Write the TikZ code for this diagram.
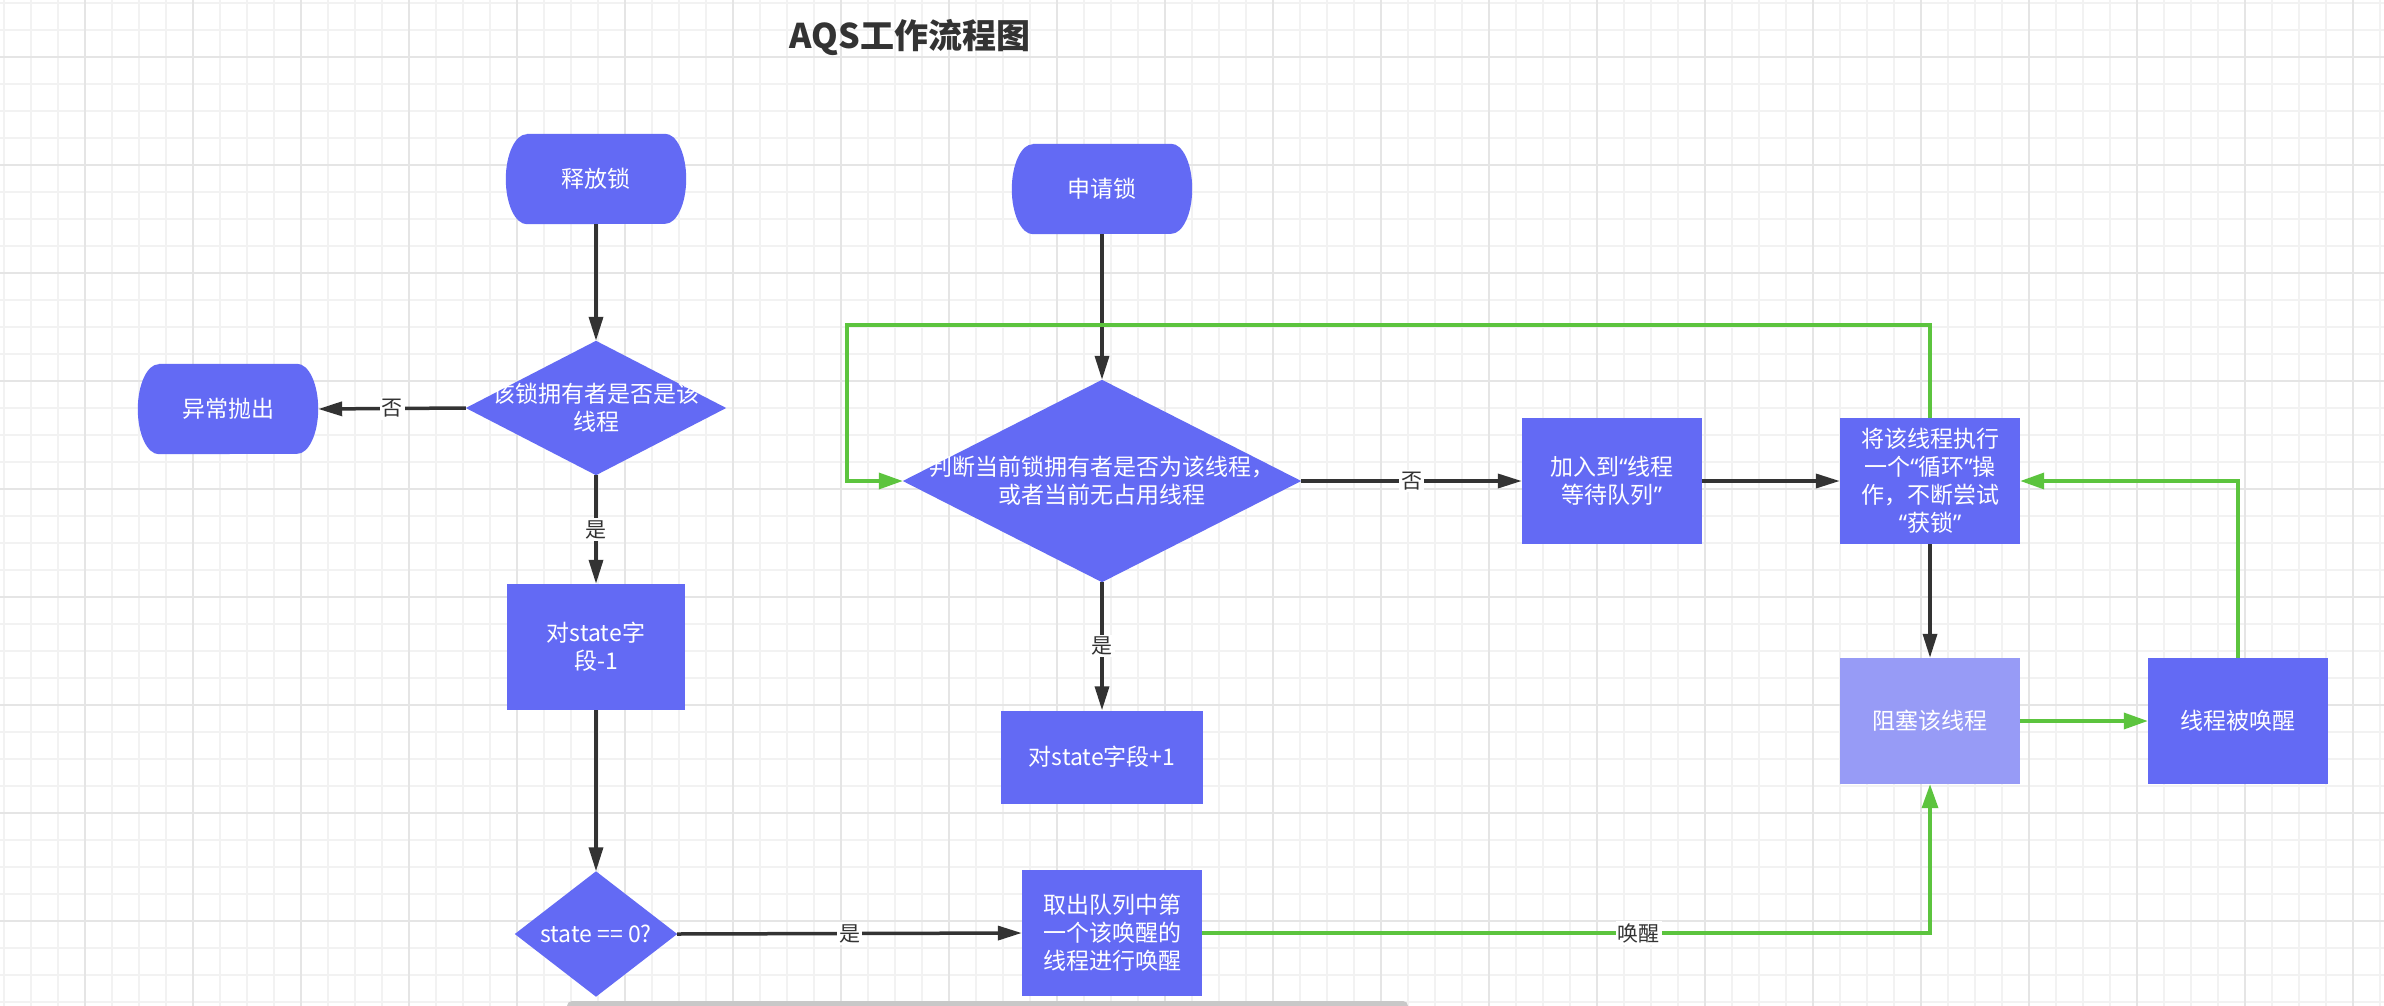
\documentclass[tikz,border=0pt]{standalone}
\usepackage{fontspec}
\setmainfont{Noto Sans CJK SC}
\newfontfamily\quotefont{Noto Sans}
\newcommand\myopenq{{\quotefont “}}
\newcommand\mycloseq{{\quotefont ”}}
\usetikzlibrary{arrows.meta}
\definecolor{nodeblue}{RGB}{99,106,244}
\definecolor{lightblue}{RGB}{151,155,246}
\definecolor{flowgreen}{RGB}{92,196,62}
\definecolor{lineblack}{RGB}{51,51,51}
\definecolor{gridminor}{RGB}{242,242,242}
\definecolor{gridmajor}{RGB}{229,229,229}
\definecolor{bargray}{RGB}{200,200,200}
\pgfdeclarelayer{gridlayer}
\pgfdeclarelayer{fills}
\pgfsetlayers{gridlayer,fills,main}
\newcommand\termshape[1]{\fill[nodeblue] ([xshift=21pt]#1.north west) -- ([xshift=-21pt]#1.north east) arc[start angle=90,end angle=-90,x radius=21pt,y radius=45pt] -- ([xshift=21pt]#1.south west) arc[start angle=270,end angle=90,x radius=21pt,y radius=45pt] -- cycle;}
\newcommand\diamondshape[1]{\fill[nodeblue] (#1.north) -- (#1.east) -- (#1.south) -- (#1.west) -- cycle;}
\begin{document}
\begin{tikzpicture}[x=1pt,y=-1pt,
  txt/.style={rectangle, inner sep=0pt, text=white, align=center, font=\fontsize{23}{28}\selectfont},
  box/.style={txt, fill=nodeblue},
  conn/.style={line width=3.5pt, draw=lineblack, -{Triangle[length=24pt,width=14pt]}},
  gconn/.style={line width=3.5pt, draw=flowgreen, -{Triangle[length=24pt,width=16pt]}},
  lbl/.style={fill=white, text=lineblack, inner sep=2pt, font=\fontsize{21}{24}\selectfont},
]
\useasboundingbox (0,0) rectangle (2384,1006);
\begin{pgfonlayer}{gridlayer}
  \fill[white] (0,0) rectangle (2384,1006);
  \foreach \k in {-3,...,85} {\draw[gridminor, line width=1.6pt] ({85+27*\k},0) -- ({85+27*\k},1006);}
  \foreach \k in {-2,...,35} {\draw[gridminor, line width=1.6pt] (0,{57+27*\k}) -- (2384,{57+27*\k});}
  \foreach \k in {0,...,21} {\draw[gridmajor, line width=2pt] ({85+108*\k},0) -- ({85+108*\k},1006);}
  \foreach \k in {0,...,8} {\draw[gridmajor, line width=2pt] (0,{57+108*\k}) -- (2384,{57+108*\k});}
  \fill[bargray, rounded corners=5pt] (567,1001) rectangle (1408,1016);
\end{pgfonlayer}

\node[font=\bfseries\fontsize{34}{40}\selectfont, text=lineblack] (title) at (910,37) {AQS工作流程图};

% terminals
\node[txt, minimum width=180pt, minimum height=90pt] (rel) at (596,179) {释放锁};
\node[txt, minimum width=180pt, minimum height=90pt] (req) at (1102,189) {申请锁};
\node[txt, minimum width=180pt, minimum height=90pt] (exc) at (228,409) {异常抛出};

% decisions
\node[txt, minimum width=260pt, minimum height=134pt] (d1) at (596,408) {该锁拥有者是否是该\\线程};
\node[txt, minimum width=398pt, minimum height=202pt] (d2) at (1102,481) {判断当前锁拥有者是否为该线程，\\或者当前无占用线程};
\node[txt, minimum width=162pt, minimum height=125pt] (d3) at (596,934) {state == 0?};

% process boxes
\node[box, minimum width=178pt, minimum height=126pt] (st1) at (596,647) {对state字\\段-1};
\node[box, minimum width=202pt, minimum height=93pt] (st2) at (1102,757) {对state字段+1};
\node[box, minimum width=180pt, minimum height=126pt] (take) at (1112,933) {取出队列中第\\一个该唤醒的\\线程进行唤醒};
\node[box, minimum width=180pt, minimum height=126pt] (join) at (1612,481) {加入到\myopenq 线程\\等待队列\mycloseq};
\node[box, minimum width=180pt, minimum height=126pt] (loop) at (1930,481) {将该线程执行\\一个\myopenq 循环\mycloseq 操\\作，不断尝试\\\myopenq 获锁\mycloseq};
\node[box, fill=lightblue, minimum width=180pt, minimum height=126pt] (block) at (1930,721) {阻塞该线程};
\node[box, minimum width=180pt, minimum height=126pt] (woke) at (2238,721) {线程被唤醒};

\begin{pgfonlayer}{fills}
  \termshape{rel}
  \termshape{req}
  \termshape{exc}
  \diamondshape{d1}
  \diamondshape{d2}
  \diamondshape{d3}
\end{pgfonlayer}

% black connectors
\draw[conn] (rel.south) -- (d1.north);
\draw[conn] (d1.west) -- node[lbl]{否} (exc.east);
\draw[conn] (d1.south) -- node[lbl]{是} (st1.north);
\draw[conn] (st1.south) -- (d3.north);
\draw[conn] (d3.east) -- node[lbl]{是} (take.west);
\draw[conn] (req.south) -- (d2.north);
\draw[conn] (d2.south) -- node[lbl]{是} (st2.north);
\draw[conn] (d2.east) -- node[lbl]{否} (join.west);
\draw[conn] (join.east) -- (loop.west);
\draw[conn] (loop.south) -- (block.north);

% green connectors
\coordinate (g1) at (847,325);
\draw[gconn] (block.east) -- (woke.west);
\draw[gconn] (woke.north) |- (loop.east);
\draw[gconn] (loop.north) |- (g1) |- (d2.west);
\draw[gconn] (take.east) -| node[lbl, pos=0.30]{唤醒} (block.south);
\end{tikzpicture}
\end{document}
